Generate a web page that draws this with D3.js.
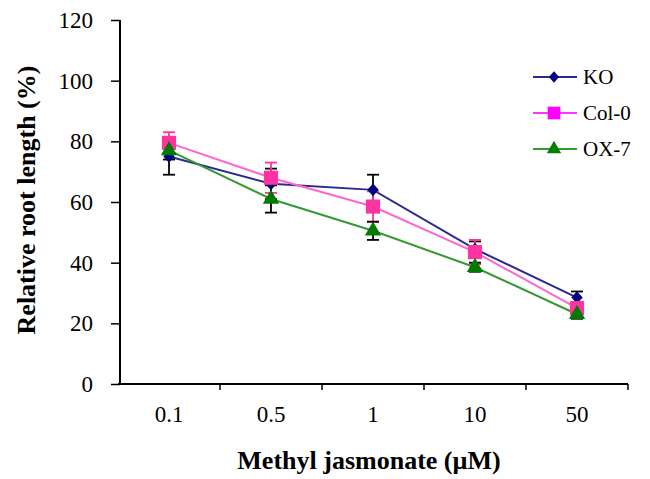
<!DOCTYPE html>
<html>
<head>
<meta charset="utf-8">
<script src="https://cdn.jsdelivr.net/npm/d3@7"></script>
<style>
  body { margin: 0; background: #fff; }
  svg { display: block; }
  .tick text { font-family: "Liberation Serif", "Times New Roman", serif; fill: #000; }
</style>
</head>
<body>
<svg id="chart"></svg>
<script>
// Chart size
const width = 650;
const height = 479;

// Data
const doses = ["0.1", "0.5", "1", "10", "50"];
const koValues = [75, 66, 64, 44.5, 28.5];
const koErrors = [6, 5, 5, 2.5, 2];
const colValues = [79.5, 68, 58.5, 43.5, 25];
const colErrors = [3.5, 5, 5, 4, 2];
const oxValues = [77, 61, 50.5, 38.5, 23];
const oxErrors = [3, 4.5, 3, 1.5, 1.5];
const yTicks = [0, 20, 40, 60, 80, 100, 120];

// Diamond that is about as wide as it is tall (Excel style)
const squareDiamond = {
    draw(context, size) {
        const r = Math.sqrt(size / 2);
        context.moveTo(0, -r);
        context.lineTo(r * 0.9, 0);
        context.lineTo(0, r);
        context.lineTo(-r * 0.9, 0);
        context.closePath();
    }
};

const series = [
    { name: "KO", values: koValues, errors: koErrors, line: "#2a2a8f", fill: "#000080", bar: "#000", legend: "#000080", legendLine: "#2a2a8f", shape: squareDiamond, size: 80, legendSize: 65 },
    { name: "Col-0", values: colValues, errors: colErrors, line: "#ff66cc", fill: "#ff33a0", bar: "#ff3399", legend: "#ff00ff", legendLine: "#ff33ff", shape: d3.symbolSquare, size: 200, legendSize: 160 },
    { name: "OX-7", values: oxValues, errors: oxErrors, line: "#339933", fill: "#007a00", bar: "#000", legend: "#008000", legendLine: "#339933", shape: d3.symbolTriangle, size: 115, legendSize: 90 }
];

const svg = d3.select("#chart")
    .attr("width", width)
    .attr("height", height);

svg.append("rect")
    .attr("width", width)
    .attr("height", height)
    .attr("fill", "#fff");

const x = d3.scaleBand()
    .domain(doses)
    .range([118, 628]);

const y = d3.scaleLinear()
    .domain([0, 120])
    .range([384, 20]);

// Y axis
svg.append("g")
    .attr("transform", "translate(120,0)")
    .call(d3.axisLeft(y).tickValues(yTicks).tickSize(9).tickPadding(18))
    .call(g => g.select(".domain").attr("stroke", "#000").attr("stroke-width", 2).attr("d", `M0,${y(120)}V${y(0)}`))
    .call(g => g.selectAll(".tick line").attr("stroke", "#000").attr("stroke-width", 1.5))
    .call(g => g.selectAll(".tick text").attr("font-size", 23));

// X axis
const xAxis = svg.append("g")
    .attr("transform", `translate(0,${y(0)})`)
    .call(d3.axisBottom(x).tickSize(0).tickPadding(22))
    .call(g => g.select(".domain").attr("stroke", "#000").attr("stroke-width", 2).attr("d", `M${x.range()[0]},0H${x.range()[1]}`))
    .call(g => g.selectAll(".tick text").attr("font-size", 23));

xAxis.selectAll(".sep")
    .data(doses)
    .enter()
    .append("line")
    .attr("class", "sep")
    .attr("x1", d => x(d) + x.bandwidth())
    .attr("x2", d => x(d) + x.bandwidth())
    .attr("y1", 0)
    .attr("y2", 6)
    .attr("stroke", "#000")
    .attr("stroke-width", 1.5);

const cx = d => x(d) + x.bandwidth() / 2;

const line = d3.line()
    .x((d, i) => cx(doses[i]))
    .y(d => y(d));

// Lines first, then error bars, then markers
series.forEach(s => {
    svg.append("path")
        .datum(s.values)
        .attr("fill", "none")
        .attr("stroke", s.line)
        .attr("stroke-width", 2)
        .attr("d", line);
});

series.forEach(s => {
    const g = svg.append("g").attr("stroke", s.bar).attr("stroke-width", 1.8);
    s.values.forEach((v, i) => {
        const px = cx(doses[i]);
        const top = y(v + s.errors[i]);
        const bot = y(v - s.errors[i]);
        g.append("line").attr("x1", px).attr("x2", px).attr("y1", top).attr("y2", bot);
        g.append("line").attr("x1", px - 6).attr("x2", px + 6).attr("y1", top).attr("y2", top);
        g.append("line").attr("x1", px - 6).attr("x2", px + 6).attr("y1", bot).attr("y2", bot);
    });
});

series.forEach(s => {
    svg.append("g")
        .selectAll("path")
        .data(s.values)
        .enter()
        .append("path")
        .attr("transform", (d, i) => `translate(${cx(doses[i])},${y(d)})`)
        .attr("d", d3.symbol().type(s.shape).size(s.size))
        .attr("fill", s.fill);
});

// Axis titles
svg.append("text")
    .attr("x", 369)
    .attr("y", 469)
    .attr("text-anchor", "middle")
    .attr("font-family", "Liberation Serif, serif")
    .attr("font-weight", "bold")
    .attr("font-size", 26)
    .text("Methyl jasmonate (\u00b5M)");

svg.append("text")
    .attr("transform", "rotate(-90)")
    .attr("x", -200)
    .attr("y", 35)
    .attr("text-anchor", "middle")
    .attr("font-family", "Liberation Serif, serif")
    .attr("font-weight", "bold")
    .attr("font-size", 26)
    .text("Relative root length (%)");

// Legend
const legend = svg.append("g").attr("transform", "translate(533,77)");
series.forEach((s, i) => {
    const row = legend.append("g").attr("transform", `translate(0,${i * 36})`);
    row.append("line")
        .attr("x1", 0).attr("x2", 44)
        .attr("stroke", s.legendLine)
        .attr("stroke-width", 2);
    row.append("path")
        .attr("transform", "translate(21,0)")
        .attr("d", d3.symbol().type(s.shape).size(s.legendSize))
        .attr("fill", s.legend);
    row.append("text")
        .attr("x", 50)
        .attr("dy", "0.35em")
        .attr("font-family", "Liberation Serif, serif")
        .attr("font-size", 21)
        .text(s.name);
});
</script>
</body>
</html>
